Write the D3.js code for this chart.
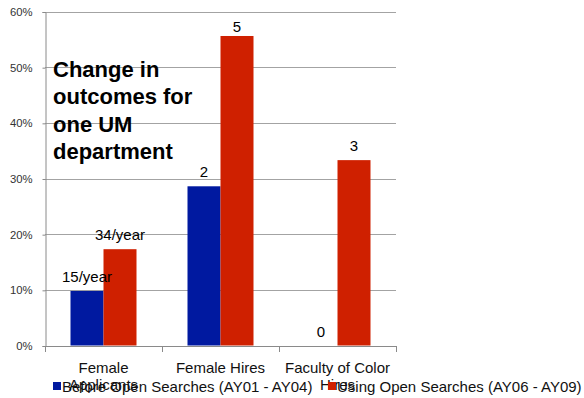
<!DOCTYPE html>
<html>
<head>
<meta charset="utf-8">
<script src="https://cdn.jsdelivr.net/npm/d3@7"></script>
<style>
	body { margin: 0; background: #fff; }
	svg { display: block; font-family: "Liberation Sans", Arial, sans-serif; }
</style>
</head>
<body>
<div id="chart"></div>
<script>
// data
var categories = ["Female Applicants", "Female Hires", "Faculty of Color Hires"];
var categoryLines = [["Female", "Applicants"], ["Female Hires"], ["Faculty of Color", "Hires"]];
var seriesNames = ["Before Open Searches (AY01 - AY04)", "Using Open Searches (AY06 - AY09)"];
var beforeValues = [0.098, 0.286, 0.0];
var afterValues = [0.173, 0.556, 0.333];
var beforeLabels = ["15/year", "2", "0"];
var afterLabels = ["34/year", "5", "3"];
var yTicks = [0, 0.1, 0.2, 0.3, 0.4, 0.5, 0.6];
var titleLines = ["Change in", "outcomes for", "one UM", "department"];

var colors = ["#0019a0", "#cf2000"];

// dimensions
var width = 584, height = 398;
var plot = { left: 45, right: 396, top: 11.5, bottom: 345.5 };
var groupWidth = 66;

var svg = d3.select("#chart")
  .append("svg")
	.attr("width", width)
	.attr("height", height);

// scales
var y = d3.scaleLinear().domain([0, 0.6]).range([plot.bottom, plot.top]);
var x0 = d3.scaleBand().domain(categories).range([plot.left, plot.right]).padding(0);
var x1 = d3.scaleBand().domain([0, 1])
	.range([(x0.bandwidth() - groupWidth) / 2, (x0.bandwidth() + groupWidth) / 2]);

// gridlines
svg.append("g")
	.selectAll("line")
	.data(yTicks)
	.join("line")
	.attr("x1", plot.left)
	.attr("x2", plot.right)
	.attr("y1", function(d) { return Math.round(y(d)) + 0.5; })
	.attr("y2", function(d) { return Math.round(y(d)) + 0.5; })
	.attr("stroke", "#a3a3a3")
	.attr("stroke-width", 1);

// y axis
var yAxis = d3.axisLeft(y)
	.tickValues(yTicks)
	.tickFormat(d3.format(".0%"))
	.tickSize(3)
	.tickPadding(10);

var yg = svg.append("g")
	.attr("transform", "translate(" + (plot.left + 0.5) + ",0.5)")
	.call(yAxis);
yg.select(".domain").attr("stroke", "#8a8a8a");
yg.selectAll(".tick line").attr("stroke", "#8a8a8a");
yg.selectAll(".tick text")
	.attr("fill", "#333")
	.style("font-size", "11.3px")
	.style("font-family", "Liberation Sans, Arial, sans-serif");

// bars
var rows = categories.map(function(c, i) {
	return { cat: c, values: [beforeValues[i], afterValues[i]], labels: [beforeLabels[i], afterLabels[i]] };
});

var groups = svg.append("g")
	.selectAll("g")
	.data(rows)
	.join("g")
	.attr("transform", function(d) { return "translate(" + x0(d.cat) + ",0)"; });

groups.selectAll("rect")
	.data(function(d) { return d.values.map(function(v, k) { return { k: k, v: v }; }); })
	.join("rect")
	.attr("x", function(d) { return x1(d.k); })
	.attr("width", x1.bandwidth())
	.attr("y", function(d) { return y(d.v); })
	.attr("height", function(d) { return y(0) - y(d.v); })
	.attr("fill", function(d) { return colors[d.k]; });

// value labels
groups.selectAll("text.val")
	.data(function(d) { return d.values.map(function(v, k) { return { k: k, v: v, label: d.labels[k] }; }); })
	.join("text")
	.attr("class", "val")
	.attr("x", function(d) { return x1(d.k) + x1.bandwidth() / 2; })
	.attr("y", function(d) { return Math.max(y(d.v) - 9, 32); })
	.attr("text-anchor", "middle")
	.style("font-size", "15px")
	.attr("fill", "#000")
	.text(function(d) { return d.label; });

// x axis line and ticks
svg.append("line")
	.attr("x1", plot.left)
	.attr("x2", plot.right)
	.attr("y1", Math.round(y(0)) + 0.5)
	.attr("y2", Math.round(y(0)) + 0.5)
	.attr("stroke", "#8a8a8a");

svg.append("g")
	.selectAll("line")
	.data(categories.concat(["end"]))
	.join("line")
	.attr("x1", function(d, i) { return Math.round(plot.left + i * x0.bandwidth()) + 0.5; })
	.attr("x2", function(d, i) { return Math.round(plot.left + i * x0.bandwidth()) + 0.5; })
	.attr("y1", Math.round(y(0)))
	.attr("y2", Math.round(y(0)) + 6)
	.attr("stroke", "#8a8a8a");

// category labels (wrapped)
var catText = svg.append("g")
	.selectAll("text")
	.data(categories)
	.join("text")
	.attr("x", function(d) { return x0(d) + x0.bandwidth() / 2; })
	.attr("y", 373)
	.attr("text-anchor", "middle")
	.style("font-size", "15px")
	.attr("fill", "#111");

catText.selectAll("tspan")
	.data(function(d, i) { return categoryLines[i]; })
	.join("tspan")
	.attr("x", function() { var p = this.parentNode; return p.getAttribute("x"); })
	.attr("dy", function(d, i) { return i === 0 ? 0 : 17; })
	.text(function(d) { return d; });

// chart title inside the plot
svg.append("text")
	.attr("x", 53)
	.attr("y", 77)
	.style("font-size", "22px")
	.style("font-weight", "bold")
	.attr("fill", "#000")
  .selectAll("tspan")
	.data(titleLines)
	.join("tspan")
	.attr("x", 53)
	.attr("dy", function(d, i) { return i === 0 ? 0 : 27.3; })
	.text(function(d) { return d; });

// legend
var legendX = [53, 328];
var legend = svg.append("g")
	.selectAll("g")
	.data(seriesNames)
	.join("g")
	.attr("transform", function(d, i) { return "translate(" + legendX[i] + ",0)"; });

legend.append("rect")
	.attr("x", 0)
	.attr("y", 382)
	.attr("width", 8)
	.attr("height", 8)
	.attr("fill", function(d, i) { return colors[i]; });

legend.append("text")
	.attr("x", 9)
	.attr("y", 392)
	.style("font-size", "15px")
	.attr("fill", "#111")
	.text(function(d) { return d; });
</script>
</body>
</html>
